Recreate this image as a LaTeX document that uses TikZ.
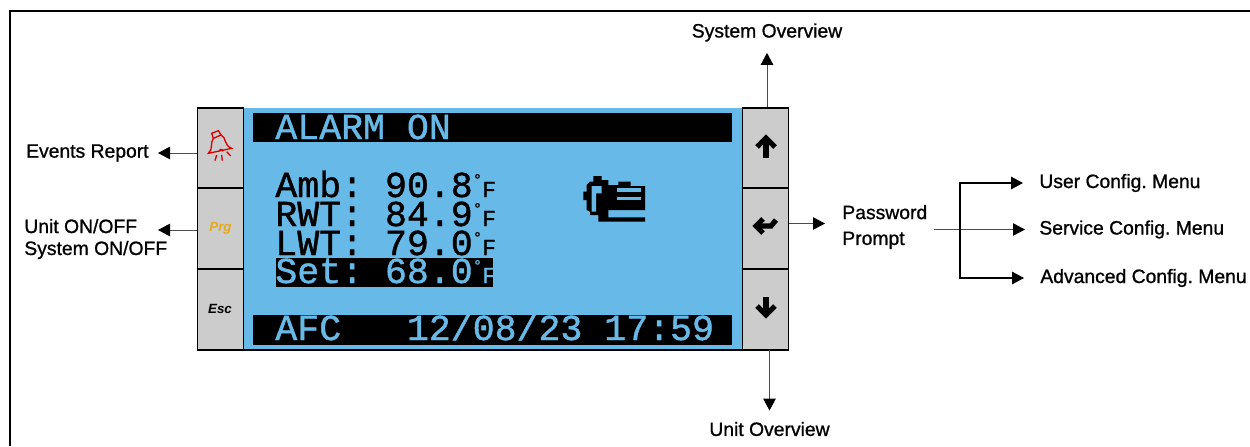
\documentclass[tikz,border=0pt]{standalone}
\usepackage{fontspec}
\setmainfont{Liberation Sans}
\newfontfamily\lcdfont[FakeBold=1.2]{Liberation Mono}
\newfontfamily\labelfont[FakeBold=1]{Liberation Sans}
\usetikzlibrary{arrows.meta}
\definecolor{lcdblue}{HTML}{67B9E8}
\definecolor{btngrey}{HTML}{CCCCCC}
\definecolor{prggold}{HTML}{E3A91C}
\newcommand{\degF}{\raisebox{7pt}{\fontsize{9}{9}\selectfont °}{\fontsize{13}{13}\selectfont F}}
\begin{document}
\begin{tikzpicture}[x=0.2mm, y=-0.2mm,
    btn/.style={draw=black, fill=btngrey, line width=0.35mm, minimum width=9.2mm, minimum height=16mm, inner sep=0pt},
    bar/.style={fill=black, inner sep=0pt},
    lcd/.style={font={\lcdfont\frenchspacing\fontsize{20.8}{20.8}\selectfont}, anchor=base west, inner sep=0pt},
    info/.style={font={\labelfont\frenchspacing\fontsize{11}{12.5}\selectfont}, inner sep=0pt},
    keyname/.style={font={\bfseries\itshape\fontsize{7.6}{8}\selectfont}, inner sep=0pt},
    n/.style={-{Triangle[length=2.4mm, width=2.5mm, black]}, line width=0.2mm, draw=black!70},
    m/.style={-{Triangle[length=2.4mm, width=2.5mm, black]}, line width=0.32mm},
    arr/.style={line width=1.05mm, draw=black}]
    \useasboundingbox (0,0) rectangle (1250,446);
    % frame
    \draw[line width=0.5mm] (10,446) -- (10,11) -- (1250,11);
    % panel
    \node[fill=lcdblue, minimum width=99.6mm, minimum height=48.4mm, inner sep=0pt] (screen) at (493,229) {};
    \node[btn] (bell) at (220.5,148) {};
    \node[btn] (prg) at (220.5,228.5) {};
    \node[btn] (esc) at (220.5,309.5) {};
    \node[btn] (up) at (765.5,148) {};
    \node[btn] (enter) at (765.5,228.5) {};
    \node[btn] (down) at (765.5,309.5) {};
    \draw[line width=0.4mm] (esc.south west) -- (down.south east);
    \node[keyname, text=prggold] (prgname) at (prg.center) {Prg};
    \node[keyname] (escname) at (220,308.5) {Esc};
    % screen
    \node[bar, minimum width=95.8mm, minimum height=5.8mm] (header) at (492.5,127.5) {};
    \node[bar, minimum width=95.8mm, minimum height=6mm] (footer) at (492.5,330) {};
    \node[bar, minimum width=43.4mm, minimum height=5.8mm] (setbar) at (384.5,272.5) {};
    \node[lcd, text=lcdblue] (alarm) at (275,139) {ALARM ON};
    \node[lcd] (amb) at (275,197) {Amb: 90.8\degF};
    \node[lcd] (rwt) at (275,226) {RWT: 84.9\degF};
    \node[lcd] (lwt) at (275,255) {LWT: 79.0\degF};
    \node[lcd, text=lcdblue] (set) at (275,283) {Set: 68.0\degF};
    \node[lcd, text=lcdblue] (afc) at (275,340) {AFC~~~12/08/23 17:59};
    % pump icon
    \begin{scope}[shift={(490,100)}, scale=1/3]
        \fill (310,228) -- (335,228) -- (335,240) -- (355,240) -- (355,255) -- (385,255) -- (385,245) -- (422,245) -- (422,258) -- (465,258) -- (465,330) -- (355,330) -- (355,352) -- (465,352) -- (465,365) -- (325,365) -- (325,345) -- (300,345) -- (300,335) -- (290,330) -- (290,300) -- (280,300) -- (280,275) -- (290,275) -- (290,255) -- (300,245) -- (310,245) -- cycle;
        \fill[lcdblue] (305,258) -- (335,258) -- (335,280) -- (318,280) -- (318,335) -- (305,335) -- cycle;
        \fill[lcdblue] (382,265) rectangle (452,275);
        \fill[lcdblue] (382,290) rectangle (452,300);
    \end{scope}
    % bell icon
    \begin{scope}[shift={(190,100)}, scale=1/3, draw=red!85!black, line width=0.26mm]
        \draw (65,100) -- (85,92) -- (93,105) -- (70,115) -- cycle;
        \draw (70,115) .. controls (60,128) and (70,148) .. (55,160) -- (125,145) .. controls (100,135) and (110,112) .. (93,105);
        \draw (88,152) arc (200:360:6);
        \draw (75,182) -- (80,165);
        \draw (97,182) -- (95,165);
        \draw (122,168) -- (110,155);
    \end{scope}
    % arrow icons
    \draw[arr] (766,158) -- (766,138);
    \draw[arr] (757,147) -- (766,138) -- (775,147);
    \draw[arr] (766,297) -- (766,315);
    \draw[arr] (757,306) -- (766,315) -- (775,306);
    \draw[arr] (763,219) -- (756,226) -- (763,233);
    \draw[arr] (756,226) -- (771,226) -- (776,220);
    % labels
    \node[info, anchor=east] (events) at (149,153) {Events Report};
    \node[info, anchor=west, align=left] (unit) at (24,239) {Unit ON/OFF\\System ON/OFF};
    \node[info] (sysview) at (767,32.5) {System Overview};
    \node[info] (unitview) at (769.5,429) {Unit Overview};
    \node[info, anchor=west, align=left, font={\labelfont\fontsize{11}{14.7}\selectfont}] (password) at (842,227) {Password\\Prompt};
    \node[info, anchor=west] (user) at (1039,183) {User Config. Menu};
    \node[info, anchor=west] (service) at (1039,229.5) {Service Config. Menu};
    \node[info, anchor=west] (advanced) at (1040,278) {Advanced Config. Menu};
    \coordinate (unitend) at (158,230);
    \coordinate (passend) at (825,223.5);
    \coordinate (branch) at (960,229);
    % edges
    \draw[n, shorten >=1.8mm] (bell.west |- events.east) -- (events.east);
    \draw[n] (prg.west |- unitend) -- (unitend);
    \draw[n, shorten >=2.2mm] (sysview.south |- up.north) -- (sysview.south);
    \draw[n] (enter.east |- passend) -- (passend);
    \draw[n, shorten >=2.2mm] (unitview.north |- down.south) -- (unitview.north);
    \draw[n, shorten <=1.2mm, shorten >=2.8mm] (password.east |- service.west) -- (service.west);
    \draw[m, shorten >=3.2mm] (branch) |- (user.west);
    \draw[m, shorten >=3.2mm] (branch) |- (advanced.west);
\end{tikzpicture}
\end{document}
